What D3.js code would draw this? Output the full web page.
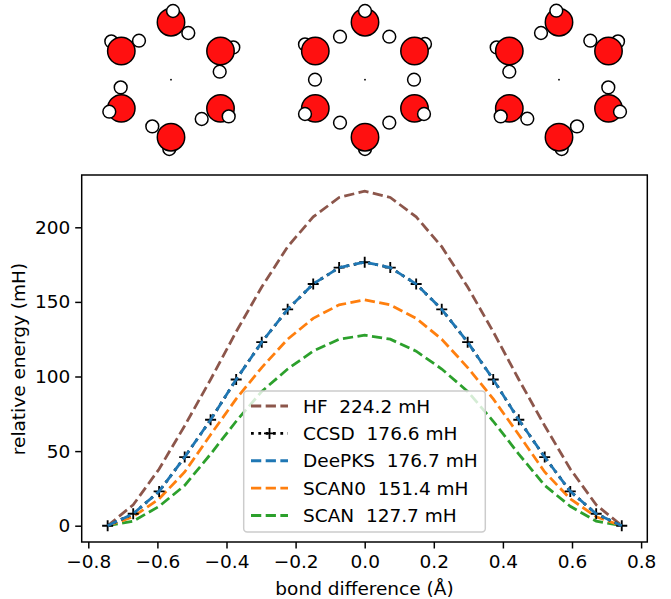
<!DOCTYPE html>
<html><head><meta charset="utf-8">
<script src="https://cdnjs.cloudflare.com/ajax/libs/d3/7.8.5/d3.min.js"></script>
<style>html,body{margin:0;padding:0;background:#fff}svg{display:block}text{font-family:"DejaVu Sans",sans-serif;fill:#000}</style>
</head><body><div id="c"></div>
<script>
const bondDiff=[-0.744,-0.67,-0.595,-0.521,-0.446,-0.372,-0.298,-0.223,-0.149,-0.074,0,0.074,0.149,0.223,0.298,0.372,0.446,0.521,0.595,0.67,0.744];
const hf=[0,14,38,67,98,130,160,187,207,220,224.2,220,207,187,160,130,98,67,38,14,0];
const ccsd=[0,8,23,46,71,98,123,145,162,173,176.6,173,162,145,123,98,71,46,23,8,0];
const deepks=[0,8,23,46,71,98,123,145,162,173,176.7,173,162,145,123,98,71,46,23,8,0];
const scan0=[0,6,18,36,61,85,106,125,139,148,151.4,148,139,125,106,85,61,36,18,6,0];
const scan=[0,3,13,27,48,70,90,105,117,125,127.7,125,117,105,90,70,48,27,13,3,0];
const xTicks=[-0.8,-0.6,-0.4,-0.2,0,0.2,0.4,0.6,0.8];
const yTicks=[0,50,100,150,200];
const legendLabels=["HF  224.2 mH","CCSD  176.6 mH","DeePKS  176.7 mH","SCAN0  151.4 mH","SCAN  127.7 mH"];
const panelCenters=[171,365,559];
// atom offsets from each ring centre, in picture units (x, y)
const oxygen=[[0,-57.5],[49.5,-28.7],[49.5,28.7],[0,57.5],[-49.7,28.7],[-49.7,-28.7]];
const hUnder=[
 [[62.3,-32.3],[-1.7,69.3],[-59.7,-38.3]],
 [[60,-35.7],[0,69.3],[-60,-35.3]],
 [[59,-38.3],[2.7,69.3],[-62.3,-32.3]]];
const hOver=[
 [[2,-68.7],[57.7,36.7],[-61.7,32]],
 [[0,-68.7],[59,34.3],[-60,34.3]],
 [[-2.7,-69],[61,32],[-58.3,36.7]]];
const hPlain=[
 [[17.3,-46.7],[48.7,-8],[30.7,39.3],[-18.7,46.7],[-50.3,7.7],[-32,-39]],
 [[24.3,-43],[49,0],[24.3,43],[-25,43],[-50,0],[-25,-43]],
 [[-18,-46.7],[31.3,-39],[49.3,7.7],[18,46.7],[-31.7,39],[-49.7,-8]]];

const W=671,H=599,FS=18.5;
const svg=d3.select("#c").append("svg").attr("width",W).attr("height",H);
const m={l:81.7,r:647.3,t:175,b:542};
const x=d3.scaleLinear().domain([-0.8,0.8]).range([88.3,641.1]);
const y=d3.scaleLinear().domain([0,200]).range([525.7,227.3]);

// molecules
panelCenters.forEach((cx,i)=>{
  const g=svg.append("g");
  const px=d=>cx+d[0],py=d=>79.7+d[1];
  const atoms=(data,r,fill)=>g.append("g").selectAll("circle").data(data).join("circle")
    .attr("cx",px).attr("cy",py).attr("r",r).attr("fill",fill).attr("stroke","#000").attr("stroke-width",1.5);
  atoms(hUnder[i],6.4,"#fff");
  atoms(oxygen,13.7,"#ff1010");
  atoms(hPlain[i],6.4,"#fff");
  atoms(hOver[i],6.4,"#fff");
  g.append("circle").attr("cx",cx).attr("cy",79.7).attr("r",0.9).attr("fill","#000");
});

// series
const line=d3.line().x((d,i)=>x(bondDiff[i])).y(d=>y(d));
const series=[{v:hf,c:"#8c564b"},{v:scan,c:"#2ca02c"},{v:scan0,c:"#ff7f0e"}];
const plot=svg.append("g");
const LW=2.77,dash="10.25,4.43",dot="2.77,4.57",MS=5.5,MW=1.85;
plot.selectAll("path.c").data(series).join("path").attr("class","c").attr("d",d=>line(d.v)).attr("fill","none")
 .attr("stroke",d=>d.c).attr("stroke-width",LW).attr("stroke-dasharray",dash);
plot.append("path").attr("d",line(ccsd)).attr("fill","none").attr("stroke","#000").attr("stroke-width",LW).attr("stroke-dasharray",dot);
plot.append("g").selectAll("path").data(ccsd).join("path")
 .attr("transform",(d,i)=>`translate(${x(bondDiff[i])},${y(d)})`)
 .attr("d",`M${-MS},0H${MS}M0,${-MS}V${MS}`)
 .attr("stroke","#000").attr("stroke-width",MW).attr("fill","none");
plot.append("path").attr("d",line(deepks)).attr("fill","none").attr("stroke","#1f77b4").attr("stroke-width",LW).attr("stroke-dasharray",dash);

// axes
const axB=svg.append("g").attr("transform",`translate(0,${m.b})`).call(d3.axisBottom(x).tickValues(xTicks).tickSize(6.5).tickSizeOuter(0).tickFormat(d=>d3.format(".1f")(d).replace("-","\u2212")));
const axL=svg.append("g").attr("transform",`translate(${m.l},0)`).call(d3.axisLeft(y).tickValues(yTicks).tickSize(6.5).tickSizeOuter(0));
[axB,axL].forEach(a=>{a.select(".domain").remove();a.selectAll("line").attr("stroke","#000").attr("stroke-width",1.48);a.selectAll("text").attr("font-size",FS).attr("font-family","DejaVu Sans").attr("fill","#000");});
axB.selectAll("text").attr("y",12).attr("dy","0.76em");
axL.selectAll("text").attr("x",-11.5);
svg.append("rect").attr("x",m.l).attr("y",m.t).attr("width",m.r-m.l).attr("height",m.b-m.t).attr("fill","none").attr("stroke","#000").attr("stroke-width",1.48);
svg.append("text").attr("x",364.5).attr("y",595).attr("text-anchor","middle").attr("font-size",FS).text("bond difference (Å)");
svg.append("text").attr("transform","translate(25,359) rotate(-90)").attr("text-anchor","middle").attr("font-size",FS).text("relative energy (mH)");

// legend
const lg=svg.append("g");
lg.append("rect").attr("x",243.7).attr("y",391).attr("width",241.6).attr("height",141).attr("rx",3.5).attr("fill","#fff").attr("fill-opacity",0.8).attr("stroke","#ccc").attr("stroke-width",1.48);
const keys=[{c:"#8c564b"},{c:"#000",dot:1},{c:"#1f77b4"},{c:"#ff7f0e"},{c:"#2ca02c"}];
const ly=d3.scalePoint().domain(d3.range(5)).range([406,515.5]);
keys.forEach((k,i)=>{
  const yy=ly(i);
  lg.append("line").attr("x1",251).attr("x2",288).attr("y1",yy).attr("y2",yy).attr("stroke",k.c).attr("stroke-width",LW).attr("stroke-dasharray",k.dot?dot:dash);
  if(k.dot) lg.append("path").attr("d",`M${269.5-MS},${yy}H${269.5+MS}M269.5,${yy-MS}V${yy+MS}`).attr("stroke","#000").attr("stroke-width",MW);
  lg.append("text").attr("x",303).attr("y",yy+6.5).attr("font-size",FS).style("white-space","pre").text(legendLabels[i]);
});
</script></body></html>
